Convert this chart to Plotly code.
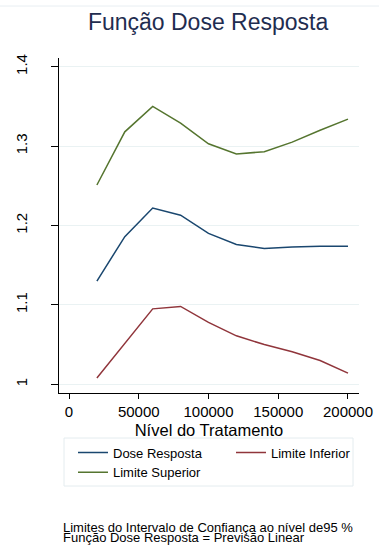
import plotly.graph_objects as go

# Data
dose = [20000, 40000, 60000, 80000, 100000, 120000, 140000, 160000, 180000, 200000]
dose_resposta = [1.130, 1.186, 1.222, 1.213, 1.190, 1.176, 1.171, 1.173, 1.174, 1.174]
limite_inferior = [1.008, 1.052, 1.095, 1.098, 1.078, 1.061, 1.050, 1.041, 1.030, 1.014]
limite_superior = [1.251, 1.318, 1.350, 1.329, 1.303, 1.290, 1.293, 1.305, 1.320, 1.334]

x_ticks = [0, 50000, 100000, 150000, 200000]
y_ticks = [1.0, 1.1, 1.2, 1.3, 1.4]
y_tick_labels = ["1", "1.1", "1.2", "1.3", "1.4"]

FONT = "Liberation Sans, Arial, sans-serif"

# Geometry (pixels)
W, H = 379, 545
ML, MT, MB = 59, 58, 152
GW = W - ML            # plot-area width used by paper coords (right margin 0)
GH = H - MT - MB       # 335
AX_RIGHT = 359         # right end of x axis


def px(xp):
    return (xp - ML) / GW


def py(yp):
    return (H - MB - yp) / GH


fig = go.Figure()
fig.add_trace(go.Scatter(x=dose, y=dose_resposta, mode="lines", name="Dose Resposta",
                         line=dict(color="#1a476f", width=1.5)))
fig.add_trace(go.Scatter(x=dose, y=limite_inferior, mode="lines", name="Limite Inferior",
                         line=dict(color="#90353b", width=1.5)))
fig.add_trace(go.Scatter(x=dose, y=limite_superior, mode="lines", name="Limite Superior",
                         line=dict(color="#55752f", width=1.5)))

fig.update_layout(
    template="none",
    width=W, height=H,
    margin=dict(l=ML, r=0, t=MT, b=MB, autoexpand=False),
    paper_bgcolor="white", plot_bgcolor="white",
    font=dict(family=FONT, color="black"),
    title=dict(text="Função Dose Resposta", x=0.549, xanchor="center",
               y=1 - 22 / H, yanchor="middle",
               font=dict(size=23, color="#1f2d50", family=FONT)),
    xaxis=dict(
        domain=[0, px(AX_RIGHT)],
        range=[-7170, 207900], tickvals=x_ticks, ticktext=[str(v) for v in x_ticks],
        showgrid=False, zeroline=False, showline=True, linecolor="black", linewidth=1,
        ticks="outside", ticklen=5, tickcolor="black", tickfont=dict(size=15),
        title=dict(text="Nível do Tratamento", font=dict(size=16.5), standoff=5),
        automargin=False,
    ),
    yaxis=dict(
        range=[0.989, 1.411], tickvals=y_ticks, ticktext=y_tick_labels, tickangle=-90,
        showgrid=True, gridcolor="#eaf2f3", gridwidth=1, zeroline=False,
        showline=True, linecolor="black", linewidth=1,
        ticks="outside", ticklen=7, tickcolor="black", tickfont=dict(size=15),
        ticklabelstandoff=18, automargin=False,
    ),
    legend=dict(
        orientation="h", x=px(73), xanchor="left",
        y=py(437.5), yanchor="top",
        entrywidth=113, borderwidth=0,
        font=dict(size=13), bgcolor="rgba(0,0,0,0)", traceorder="normal",
    ),
    showlegend=True,
    shapes=[
        dict(type="line", xref="paper", yref="paper", x0=px(0), x1=px(W),
             y0=py(6), y1=py(6), line=dict(color="#e8eef2", width=1)),
        dict(type="rect", xref="paper", yref="paper", x0=px(64), x1=px(353),
             y0=py(438), y1=py(486), line=dict(color="#e4ecef", width=1),
             fillcolor="rgba(0,0,0,0)", layer="below"),
    ],
    annotations=[
        dict(text="Limites do Intervalo de Confiança ao nível de95 %", xref="paper", yref="paper",
             x=px(61), xanchor="left", y=py(527), yanchor="middle",
             showarrow=False, font=dict(size=13)),
        dict(text="Função Dose Resposta = Previsão Linear", xref="paper", yref="paper",
             x=px(61), xanchor="left", y=py(537.5), yanchor="middle",
             showarrow=False, font=dict(size=13)),
    ],
)

fig.write_html("out.html")
